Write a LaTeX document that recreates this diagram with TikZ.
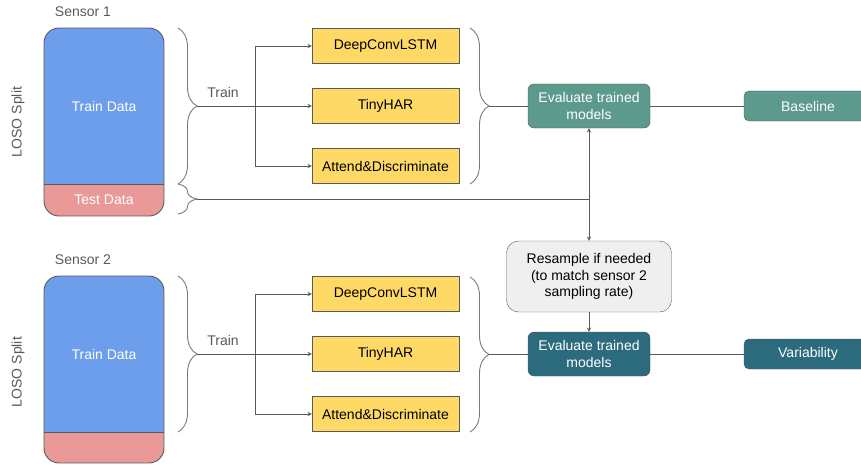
\documentclass[tikz,border=0pt]{standalone}
\usepackage{xcolor}
\usepackage{fontspec}
\setmainfont{Liberation Sans}
\usepackage{tikz}
\usetikzlibrary{arrows,calc,decorations.pathreplacing,positioning}

\definecolor{trainblue}{HTML}{6D9EEB}
\definecolor{testred}{HTML}{EA9999}
\definecolor{modelyellow}{HTML}{FFD966}
\definecolor{evalteal}{HTML}{5B9A8C}
\definecolor{evaldark}{HTML}{2C6A7E}
\definecolor{resgray}{HTML}{EFEFEF}
\definecolor{linegray}{HTML}{595959}

\tikzset{
  txt/.style={font=\fontsize{14}{16.5}\selectfont},
  label/.style={txt, text=linegray},
  datatext/.style={txt, text=white},
  model/.style={txt, draw=linegray, fill=modelyellow, minimum width=147, minimum height=35, inner sep=0},
  evalbox/.style={txt, draw=linegray, text=white, rounded corners=6, minimum width=122, minimum height=44, inner sep=0, align=center},
  result/.style={txt, draw=linegray, text=white, rounded corners=5, minimum width=128, minimum height=30, inner sep=0},
  resample/.style={txt, draw=linegray, fill=resgray, rounded corners=12, minimum width=165, minimum height=71, inner sep=0, align=center},
  conn/.style={draw=linegray, line width=0.9},
  arr/.style={conn, -stealth},
  bracket/.style={draw=linegray!80, line width=0.9, decorate, decoration={brace, amplitude=19}}
}

\begin{document}
\begin{tikzpicture}[x=1pt, y=-1pt]
  \clip (0,0) rectangle (861,468);

  % sensor 1
  \node[label] (sensA) at (83,12) {Sensor 1};
  \node[label, rotate=90] (losoA) at (18,122) {LOSO Split};
  \begin{scope}
    \clip[rounded corners=15] (44,28) rectangle (164,216);
    \fill[trainblue] (44,28) rectangle (164,184);
    \fill[testred] (44,184) rectangle (164,216);
  \end{scope}
  \draw[conn, rounded corners=15] (44,28) rectangle (164,216);
  \draw[conn] (44,184) -- (164,184);
  \node[datatext] (trainA) at (104,106) {Train Data};
  \node[datatext] (testA) at (104,200) {Test Data};

  % sensor 2
  \node[label] (sensB) at (83,260) {Sensor 2};
  \node[label, rotate=90] (losoB) at (18,372) {LOSO Split};
  \begin{scope}
    \clip[rounded corners=15] (44,276) rectangle (164,463);
    \fill[trainblue] (44,276) rectangle (164,432);
    \fill[testred] (44,432) rectangle (164,463);
  \end{scope}
  \draw[conn, rounded corners=15] (44,276) rectangle (164,463);
  \draw[conn] (44,432) -- (164,432);
  \node[datatext] (trainB) at (104,354) {Train Data};

  % models
  \node[model] (deepA) at (385.5,46) {DeepConvLSTM};
  \node[model] (tinyA) at (385.5,106) {TinyHAR};
  \node[model] (attA) at (385.5,166) {Attend\&Discriminate};
  \node[model] (deepB) at (385.5,294) {DeepConvLSTM};
  \node[model] (tinyB) at (385.5,354) {TinyHAR};
  \node[model] (attB) at (385.5,414) {Attend\&Discriminate};

  % evaluation
  \node[evalbox, fill=evalteal] (evalA) at (589,106) {Evaluate trained\\models};
  \node[evalbox, fill=evaldark] (evalB) at (589,354) {Evaluate trained\\models};
  \node[result, fill=evalteal] (base) at (808,106) {Baseline};
  \node[result, fill=evaldark] (var) at (808,354) {Variability};
  \node[resample] (res) at (589,276.5) {Resample if needed\\(to match sensor 2\\sampling rate)};

  % braces
  \draw[bracket] (178,28) -- (178,184);
  \draw[bracket] (178,184) -- (178,214);
  \draw[bracket] (470,28) -- (470,184);
  \draw[bracket] (178,276) -- (178,432);
  \draw[bracket] (470,277) -- (470,432);
  \coordinate (tipA) at (197,106);
  \coordinate (tipT) at (197,199);
  \coordinate (tipM) at (489,106);
  \coordinate (tipB) at (197,354);
  \coordinate (tipN) at (489,354);
  \coordinate (fanA) at (255,106);
  \coordinate (fanB) at (255,354);
  \coordinate (split) at (589,199);

  % train
  \node[label, above] (lblA) at (223,101) {Train};
  \node[label, above] (lblB) at (223,349) {Train};
  \draw[arr] (tipA) -- (tinyA);
  \draw[arr] (fanA) |- (deepA);
  \draw[arr] (fanA) |- (attA);
  \draw[arr] (tipB) -- (tinyB);
  \draw[arr] (fanB) |- (deepB);
  \draw[arr] (fanB) |- (attB);

  % evaluate
  \draw[conn] (tipM) -- (evalA);
  \draw[conn] (evalA) -- (base);
  \draw[conn] (tipN) -- (evalB);
  \draw[conn] (evalB) -- (var);
  \draw[conn] (tipT) -- (split);
  \draw[arr] (split) -- (evalA);
  \draw[arr] (split) -- (res);
  \draw[arr] (res) -- (evalB);
\end{tikzpicture}
\end{document}
